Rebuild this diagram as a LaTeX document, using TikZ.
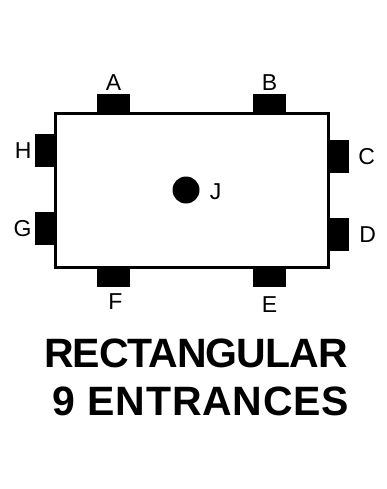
\documentclass[tikz,border=0pt]{standalone}
\usepackage{fontspec}
\setmainfont{Liberation Sans}
\usetikzlibrary{positioning}
\tikzset{
  door/.style={fill=black,inner sep=0pt},
  hdoor/.style={door,minimum width=33pt,minimum height=20pt},
  vdoor/.style={door,minimum width=20pt,minimum height=33pt},
  tag/.style={inner sep=0pt,font=\fontsize{23}{23}\selectfont},
  heading/.style={inner sep=0pt,font=\fontsize{41}{41}\selectfont\bfseries}
}

\begin{document}
\begin{tikzpicture}[x=1pt,y=-1pt]
  \useasboundingbox (0,0) rectangle (387,489);
  % room outline
  \node[draw,line width=3pt,inner sep=0pt,minimum width=272.5pt,minimum height=153pt] (room) at (191.75,190.5) {};
  % entrances
  \node[hdoor] (A) at (113.5,104) {};
  \node[hdoor] (B) at (269.5,104) {};
  \node[vdoor] (C) at (339,156.5) {};
  \node[vdoor] (D) at (339,234.5) {};
  \node[hdoor] (E) at (269.5,277) {};
  \node[hdoor] (F) at (113.5,277) {};
  \node[vdoor] (G) at (45,228.5) {};
  \node[vdoor] (H) at (45,150.5) {};
  \node[circle,fill=black,inner sep=0pt,minimum size=27pt] (J) at (186,190) {};
  % letters
  \node[tag,above=3pt of A] (lA) {A};
  \node[tag,above=3pt of B] (lB) {B};
  \node[tag,right=9pt of C] (lC) {C};
  \node[tag,right=10pt of D] (lD) {D};
  \node[tag,below=9pt of E] (lE) {E};
  \node[tag,below=6pt of F,xshift=2pt] (lF) {F};
  \node[tag,left=3pt of G] (lG) {G};
  \node[tag,left=3pt of H] (lH) {H};
  \node[tag,right=10pt of J,yshift=-2pt] (lJ) {J};
  % title
  \node[heading] (line1) at (196,353.5) {\addfontfeatures{LetterSpace=-2.5}RECTANGULAR};
  \node[heading] (line2) at (201,401) {\addfontfeatures{LetterSpace=2}9 ENTRANCES};
\end{tikzpicture}
\end{document}
